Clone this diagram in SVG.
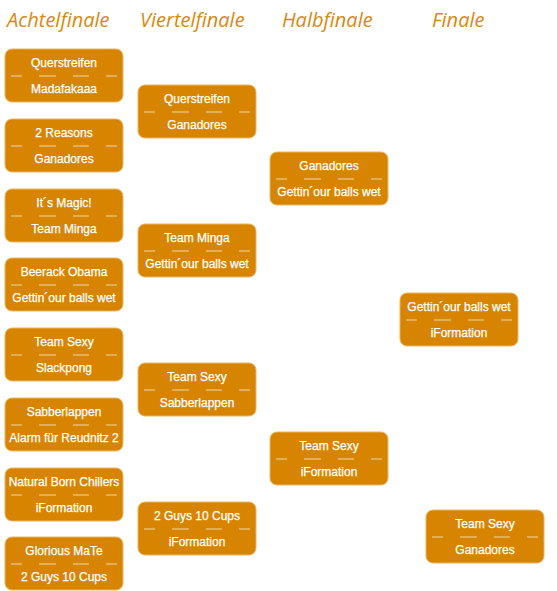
<svg xmlns="http://www.w3.org/2000/svg" width="557" height="591" viewBox="0 0 557 591">
<style>
.h{font-family:"Open Sans","Liberation Sans",Arial,sans-serif;font-style:italic;font-size:20px;fill:#d8890f;}
.b{fill:#d78500;stroke:#e9b562;stroke-width:1;}
.t{font-family:"Liberation Sans",Arial,sans-serif;font-size:12px;fill:#ffffff;stroke:#ffffff;stroke-width:0.25;text-anchor:middle;}
.d{stroke:#ffffff;stroke-opacity:0.45;stroke-width:1.3;fill:none;}
</style>
<defs>
<rect id="box" class="b" x="0" y="0" width="118" height="53" rx="7" ry="7"/>
<path id="dash" class="d" d="M6 27H17M34 27H51M68 27H84M101 27H112"/>
</defs>
<rect width="557" height="591" fill="#ffffff"/>
<g id="headers">
<text class="h" x="7" y="27">Achtelfinale</text>
<text class="h" x="140" y="27">Viertelfinale</text>
<text class="h" x="282" y="27">Halbfinale</text>
<text class="h" x="432" y="27">Finale</text>
</g>
<g id="connectors"></g>
<g id="r16-1" transform="translate(5,49)"><use href="#box"/><use href="#dash"/><text class="t" x="59" y="18">Querstreifen</text><text class="t" x="59" y="44">Madafakaaa</text></g>
<g id="r16-2" transform="translate(5,119)"><use href="#box"/><use href="#dash"/><text class="t" x="59" y="18">2 Reasons</text><text class="t" x="59" y="44">Ganadores</text></g>
<g id="r16-3" transform="translate(5,189)"><use href="#box"/><use href="#dash"/><text class="t" x="59" y="18">It´s Magic!</text><text class="t" x="59" y="44">Team Minga</text></g>
<g id="r16-4" transform="translate(5,258)"><use href="#box"/><use href="#dash"/><text class="t" x="59" y="18">Beerack Obama</text><text class="t" x="59" y="44">Gettin´our balls wet</text></g>
<g id="r16-5" transform="translate(5,328)"><use href="#box"/><use href="#dash"/><text class="t" x="59" y="18">Team Sexy</text><text class="t" x="59" y="44">Slackpong</text></g>
<g id="r16-6" transform="translate(5,398)"><use href="#box"/><use href="#dash"/><text class="t" x="59" y="18">Sabberlappen</text><text class="t" x="59" y="44">Alarm für Reudnitz 2</text></g>
<g id="r16-7" transform="translate(5,468)"><use href="#box"/><use href="#dash"/><text class="t" x="59" y="18">Natural Born Chillers</text><text class="t" x="59" y="44">iFormation</text></g>
<g id="r16-8" transform="translate(5,537)"><use href="#box"/><use href="#dash"/><text class="t" x="59" y="18">Glorious MaTe</text><text class="t" x="59" y="44">2 Guys 10 Cups</text></g>
<g id="qf-1" transform="translate(138,85)"><use href="#box"/><use href="#dash"/><text class="t" x="59" y="18">Querstreifen</text><text class="t" x="59" y="44">Ganadores</text></g>
<g id="qf-2" transform="translate(138,224)"><use href="#box"/><use href="#dash"/><text class="t" x="59" y="18">Team Minga</text><text class="t" x="59" y="44">Gettin´our balls wet</text></g>
<g id="qf-3" transform="translate(138,363)"><use href="#box"/><use href="#dash"/><text class="t" x="59" y="18">Team Sexy</text><text class="t" x="59" y="44">Sabberlappen</text></g>
<g id="qf-4" transform="translate(138,502)"><use href="#box"/><use href="#dash"/><text class="t" x="59" y="18">2 Guys 10 Cups</text><text class="t" x="59" y="44">iFormation</text></g>
<g id="sf-1" transform="translate(270,152)"><use href="#box"/><use href="#dash"/><text class="t" x="59" y="18">Ganadores</text><text class="t" x="59" y="44">Gettin´our balls wet</text></g>
<g id="sf-2" transform="translate(270,432)"><use href="#box"/><use href="#dash"/><text class="t" x="59" y="18">Team Sexy</text><text class="t" x="59" y="44">iFormation</text></g>
<g id="final" transform="translate(400,293)"><use href="#box"/><use href="#dash"/><text class="t" x="59" y="18">Gettin´our balls wet</text><text class="t" x="59" y="44">iFormation</text></g>
<g id="third" transform="translate(426,510)"><use href="#box"/><use href="#dash"/><text class="t" x="59" y="18">Team Sexy</text><text class="t" x="59" y="44">Ganadores</text></g>
</svg>
